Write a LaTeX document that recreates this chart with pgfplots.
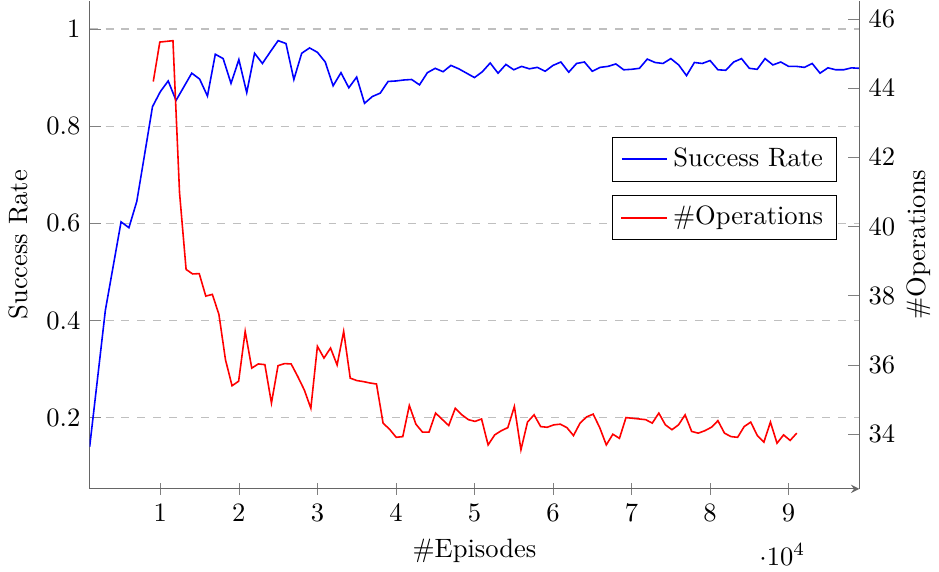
\documentclass[border=0pt]{standalone}
\usepackage{pgfplots}
\pgfplotsset{compat=1.18}
\usepackage{pgfplotstable}

\pgfplotstableread{
x y
1000 0.140
2000 0.280
3000 0.421
4000 0.512
5000 0.603
6000 0.591
7000 0.645
8000 0.742
9000 0.840
10000 0.871
11000 0.893
12000 0.853
13000 0.881
14000 0.909
15000 0.897
16000 0.862
17000 0.948
18000 0.939
19000 0.888
20000 0.937
21000 0.869
22000 0.950
23000 0.929
24000 0.953
25000 0.976
26000 0.970
27000 0.896
28000 0.950
29000 0.961
30000 0.952
31000 0.932
32000 0.883
33000 0.910
34000 0.879
35000 0.901
36000 0.847
37000 0.861
38000 0.868
39000 0.892
40000 0.893
41000 0.895
42000 0.896
43000 0.885
44000 0.910
45000 0.919
46000 0.912
47000 0.925
48000 0.918
49000 0.909
50000 0.900
51000 0.912
52000 0.930
53000 0.909
54000 0.927
55000 0.916
56000 0.923
57000 0.918
58000 0.921
59000 0.913
60000 0.925
61000 0.932
62000 0.911
63000 0.929
64000 0.932
65000 0.913
66000 0.921
67000 0.923
68000 0.928
69000 0.916
70000 0.917
71000 0.919
72000 0.938
73000 0.931
74000 0.929
75000 0.939
76000 0.926
77000 0.904
78000 0.931
79000 0.929
80000 0.935
81000 0.916
82000 0.915
83000 0.932
84000 0.939
85000 0.919
86000 0.917
87000 0.939
88000 0.926
89000 0.932
90000 0.923
91000 0.923
92000 0.921
93000 0.929
94000 0.909
95000 0.920
96000 0.916
97000 0.916
98000 0.920
99000 0.919
}\successdata

\pgfplotstableread{
x y
9100 44.19
9936 45.33
10772 45.35
11608 45.37
12444 40.98
13280 38.76
14116 38.63
14952 38.64
15788 37.99
16624 38.04
17460 37.46
18296 36.15
19132 35.40
19968 35.53
20804 36.97
21640 35.91
22476 36.03
23312 36.01
24148 34.90
24984 35.98
25820 36.04
26656 36.03
27492 35.67
28328 35.28
29164 34.75
30000 36.54
30836 36.20
31672 36.49
32508 36.00
33344 36.97
34180 35.62
35016 35.55
35852 35.52
36688 35.48
37524 35.45
38360 34.32
39196 34.14
40032 33.91
40868 33.93
41704 34.83
42540 34.29
43376 34.06
44212 34.06
45048 34.61
45884 34.43
46720 34.25
47556 34.75
48392 34.56
49228 34.42
50064 34.37
50900 34.44
51736 33.69
52572 33.98
53408 34.10
54244 34.19
55080 34.80
55916 33.55
56752 34.35
57588 34.56
58424 34.22
59260 34.20
60096 34.27
60932 34.29
61768 34.19
62604 33.96
63440 34.32
64276 34.50
65112 34.58
65948 34.19
66784 33.69
67620 34.00
68456 33.88
69292 34.48
70128 34.46
70964 34.44
71800 34.42
72636 34.32
73472 34.61
74308 34.27
75144 34.13
75980 34.27
76816 34.56
77652 34.08
78488 34.03
79324 34.10
80160 34.20
80996 34.39
81832 34.03
82668 33.93
83504 33.91
84340 34.22
85176 34.35
86012 33.96
86848 33.77
87684 34.35
88520 33.74
89356 33.98
90192 33.82
91028 34.03
}\opsdata

\begin{document}
\begin{tikzpicture}
\begin{axis}[
  scale only axis,
  width=290pt, height=184pt,
  xmin=1000, xmax=99000,
  ymin=0.0535, ymax=1.0585,
  axis x line=bottom,
  axis y line*=left,
  axis line style={black!60},
  tick style={black!50},
  xtick={10000,20000,30000,40000,50000,60000,70000,80000,90000},
  ytick={0.2,0.4,0.6,0.8,1},
  ymajorgrids,
  grid style={dashed, black!25},
  xlabel={\#Episodes},
  ylabel={Success Rate},
  legend style={at={(0.9707,0.7207)}, anchor=north east},
]
\addplot[blue, semithick,
  legend image code/.code={\draw[blue, line width=0.8pt] (0cm,0cm) -- (0.6cm,0cm);}]
  table[x=x, y=y] {\successdata};
\addlegendentry{Success Rate}
\end{axis}
\begin{axis}[
  scale only axis,
  width=290pt, height=184pt,
  xmin=1000, xmax=99000,
  ymin=32.42, ymax=46.53,
  axis x line=none,
  axis y line*=right,
  axis line style={black!60},
  tick style={black!50},
  ytick={34,36,38,40,42,44,46},
  ylabel={\#Operations},
  ylabel shift=-2.7pt,
  legend style={at={(0.9707,0.6016)}, anchor=north east},
]
\addplot[red, semithick,
  legend image code/.code={\draw[red, line width=0.8pt] (0cm,0cm) -- (0.6cm,0cm);}]
  table[x=x, y=y] {\opsdata};
\addlegendentry{\#Operations}
\end{axis}
\end{tikzpicture}
\end{document}
